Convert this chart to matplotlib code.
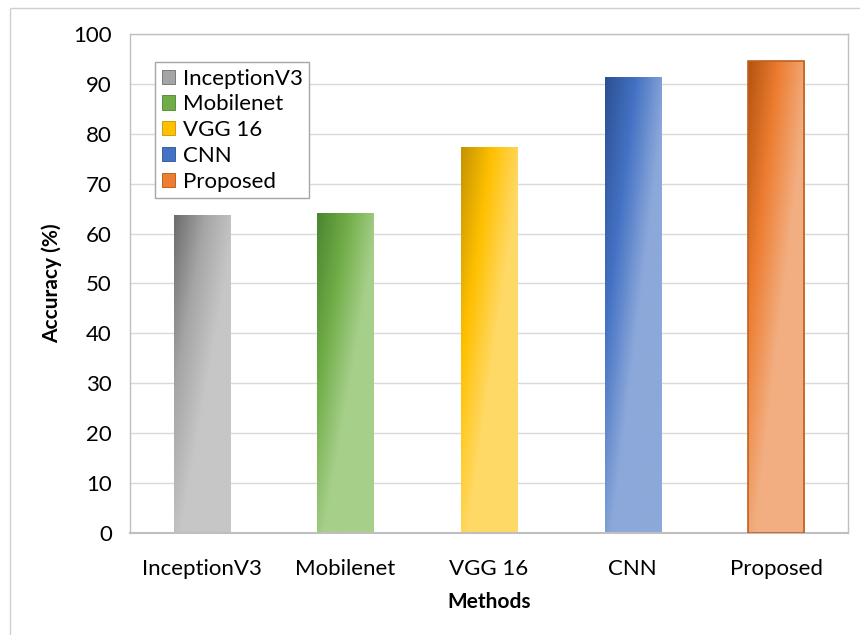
import numpy as np
import matplotlib
matplotlib.use("Agg")
import matplotlib.pyplot as plt
from matplotlib.colors import LinearSegmentedColormap
from matplotlib.patches import Rectangle, Patch

plt.rcParams['font.family'] = ['Lato', 'DejaVu Sans']

methods = ["InceptionV3", "Mobilenet", "VGG 16", "CNN", "Proposed"]
accuracy = [63.7, 64.1, 77.4, 91.4, 94.6]
yticks = [0, 10, 20, 30, 40, 50, 60, 70, 80, 90, 100]

# (dark, base, light) shades for each bar's gradient fill
shades = [
    ("#6c6c6c", "#a5a5a5", "#c6c6c6"),
    ("#4a8530", "#70ad47", "#a6cf8a"),
    ("#c49300", "#ffc000", "#ffd966"),
    ("#2b5092", "#4472c4", "#8ca8da"),
    ("#b4530f", "#ed7d31", "#f2ae80"),
]
edge_colors = ["none", "none", "none", "none", "#c0601e"]

fig = plt.figure(figsize=(8.6, 6.35), dpi=100)
ax = fig.add_axes([0.1512, 0.1606, 0.835, 0.786])

x = np.arange(len(methods))
bars = ax.bar(x, accuracy, width=0.39, facecolor="none",
              edgecolor=edge_colors, linewidth=1.2, zorder=3)

# gradient field: dark at top-left, lighter towards right and bottom
nu, nv = 80, 200
u = np.linspace(0, 1, nu)[None, :]
v = np.linspace(0, 1, nv)[:, None]
t = np.clip(0.9 * u + 0.9 * v, 0, 1)

for bar, (dk, base, lt) in zip(bars, shades):
    cmap = LinearSegmentedColormap.from_list("g", [dk, base, lt])
    img = cmap(t)
    bx, by = bar.get_x(), bar.get_y()
    bw, bh = bar.get_width(), bar.get_height()
    im = ax.imshow(img, extent=(bx, bx + bw, by, by + bh), origin="upper",
                   aspect="auto", zorder=2, interpolation="bilinear")
    clip = Rectangle((bx, by), bw, bh, transform=ax.transData)
    im.set_clip_path(clip)

ax.set_xlim(-0.5, len(methods) - 0.5)
ax.set_ylim(0, 100)
ax.set_yticks(yticks)
ax.set_xticks(x)
ax.set_xticklabels(methods)
ax.tick_params(axis="both", length=0, labelsize=16, colors="#000000")
ax.tick_params(axis="x", pad=19)
ax.tick_params(axis="y", pad=13)
ax.grid(axis="y", color="#d9d9d9", linewidth=1.0, zorder=0)
ax.set_axisbelow(True)
for s in ["top", "right", "left"]:
    ax.spines[s].set_color("#bfbfbf")
    ax.spines[s].set_linewidth(1.0)
ax.spines["bottom"].set_color("#bfbfbf")
ax.spines["bottom"].set_linewidth(1.5)

ax.set_ylabel("Accuracy (%)", fontsize=15, fontweight="bold", labelpad=8)
ax.set_xlabel("Methods", fontsize=15, fontweight="bold", labelpad=9)

handles = [Patch(facecolor=base, edgecolor=dk, linewidth=0.6)
           for (dk, base, lt) in shades]
leg = ax.legend(handles, methods, loc="upper left",
                bbox_to_anchor=(0.035, 0.944), borderaxespad=0,
                fontsize=16, fancybox=False, framealpha=1,
                edgecolor="#a6a6a6", handlelength=0.6, handleheight=0.6,
                handletextpad=0.35, labelspacing=0.26, borderpad=0.3)
leg.get_frame().set_linewidth(1.0)

# outer chart frame
fig.patches.append(Rectangle((10 / 860, -0.1), 1.2, 1 - 8 / 635 + 0.1,
                             transform=fig.transFigure, fill=False,
                             edgecolor="#d0d0d0", linewidth=1.0))

fig.savefig("out.png", dpi=100)
